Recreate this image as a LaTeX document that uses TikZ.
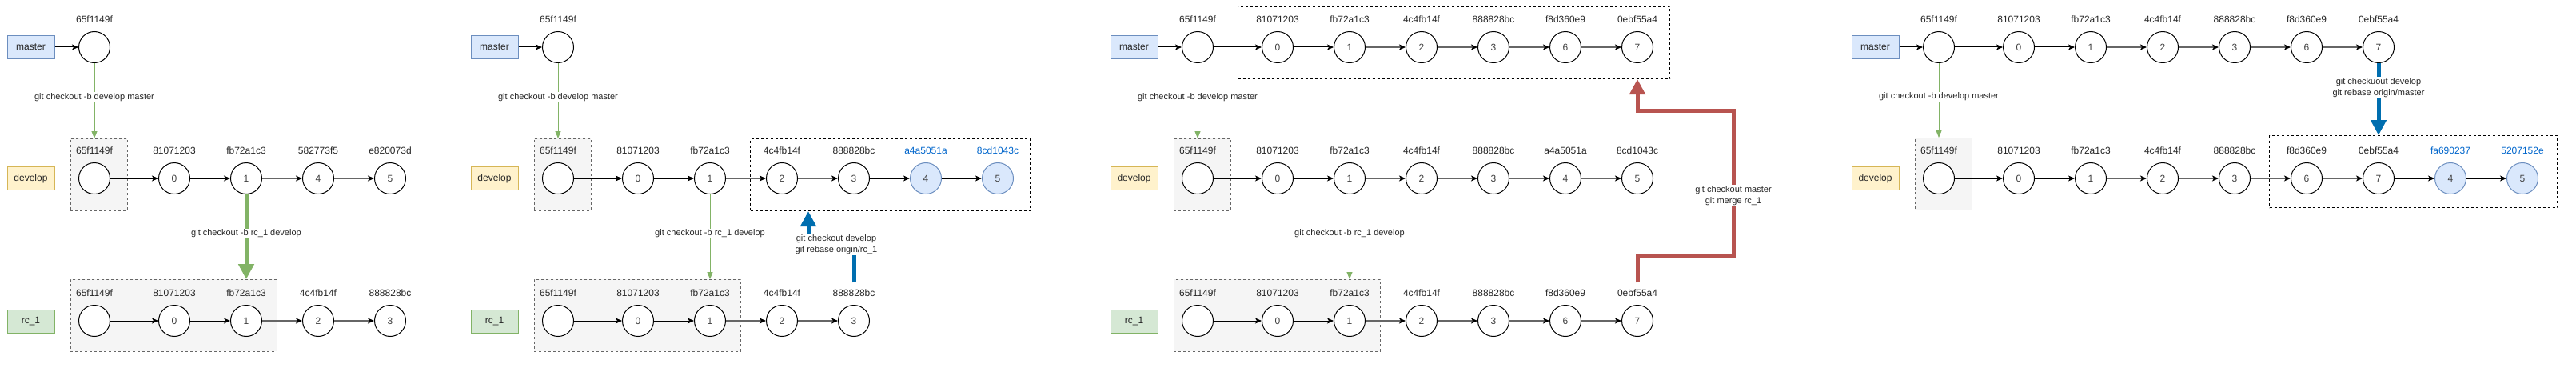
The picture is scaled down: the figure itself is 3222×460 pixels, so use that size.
\documentclass[tikz,border=0pt]{standalone}
\usepackage{fontspec}
\setmainfont{Liberation Sans}
\usetikzlibrary{arrows.meta,calc}
\definecolor{mfill}{HTML}{DAE8FC}\definecolor{mdraw}{HTML}{6C8EBF}
\definecolor{dfill}{HTML}{FFF2CC}\definecolor{ddraw}{HTML}{D6B656}
\definecolor{rfill}{HTML}{D5E8D4}\definecolor{rdraw}{HTML}{82B366}
\definecolor{gfill}{HTML}{F5F5F5}\definecolor{gdraw}{HTML}{666666}
\definecolor{gline}{HTML}{82B366}
\definecolor{bline}{HTML}{006EAF}
\definecolor{redl}{HTML}{B85450}
\definecolor{btext}{HTML}{0066CC}
\tikzset{
  commit/.style={circle, draw=black, line width=1pt, minimum size=39pt, inner sep=0pt, fill=white, text=black!75, font=\fontsize{12}{14}\selectfont},
  newcommit/.style={commit, fill=mfill, draw=mdraw},
  hash/.style={font=\fontsize{12}{14}\selectfont, inner sep=1pt, text=black!85},
  newhash/.style={hash, text=btext},
  branch/.style={draw, line width=1pt, minimum width=59pt, minimum height=29pt, inner sep=0pt, font=\fontsize{12}{14}\selectfont, text=black!85},
  masterbr/.style={branch, fill=mfill, draw=mdraw},
  devbr/.style={branch, fill=dfill, draw=ddraw},
  rcbr/.style={branch, fill=rfill, draw=rdraw},
  fixbox/.style={draw=gdraw, fill=gfill, line width=0.8pt, dash pattern=on 3pt off 3pt},
  newbox/.style={draw=black, line width=1pt, dash pattern=on 3pt off 3pt},
  link/.style={line width=1pt, draw=black, -{Stealth[length=8pt,width=7pt,inset=2pt,color=black]}},
  glink/.style={link, line width=1.5pt, draw=gdraw},
  thin/.style={line width=1pt, draw=gline, -{Triangle[length=9pt,width=7pt]}},
  thick/.style={line width=5pt, -{Triangle[length=19pt,width=19pt]}},
  elabel/.style={fill=white, font=\fontsize{11}{14}\selectfont, inner sep=1pt, text=black!85, align=center},
}
\newcommand{\cmt}[7]{\node[#1] (#3) at (#4,#5) {#6};\node[#2] (#3h) at (#4,#5-35) {#7};}
\newcommand{\area}[6]{\node[#1, anchor=north west, inner sep=0pt, minimum width={(#5)-(#3)}, minimum height={(#6)-(#4)}] (#2) at (#3,#4) {};}
\begin{document}
\begin{tikzpicture}[x=1pt,y=-1pt]
\fill[white] (0,0) rectangle (3222,460);
\useasboundingbox (0,0) rectangle (3222,460);

% ================= panel 1 =================
\area{fixbox}{p1dbox}{88}{173}{159}{263}
\area{fixbox}{p1rbox}{88}{349}{346}{439}
\node[masterbr] (p1m) at (38.5,59) {master};
\node[devbr] (p1d) at (38.5,223) {develop};
\node[rcbr] (p1r) at (38.5,401.5) {rc\_1};
\cmt{commit}{hash}{p1m0}{118}{59}{}{65f1149f}
\cmt{commit}{hash}{p1d0}{118}{223}{}{65f1149f}
\cmt{commit}{hash}{p1d1}{218}{223}{0}{81071203}
\cmt{commit}{hash}{p1d2}{308}{223}{1}{fb72a1c3}
\cmt{commit}{hash}{p1d3}{398}{223}{4}{582773f5}
\cmt{commit}{hash}{p1d4}{488}{223}{5}{e820073d}
\cmt{commit}{hash}{p1r0}{118}{401}{}{65f1149f}
\cmt{commit}{hash}{p1r1}{218}{401}{0}{81071203}
\cmt{commit}{hash}{p1r2}{308}{401}{1}{fb72a1c3}
\cmt{commit}{hash}{p1r3}{398}{401}{2}{4c4fb14f}
\cmt{commit}{hash}{p1r4}{488}{401}{3}{888828bc}
\draw[link] (p1m) -- (p1m0);
\draw[link] (p1d0) -- (p1d1);
\draw[link] (p1d1) -- (p1d2);
\draw[glink] (p1d2) -- (p1d3);
\draw[glink] (p1d3) -- (p1d4);
\draw[link] (p1r0) -- (p1r1);
\draw[link] (p1r1) -- (p1r2);
\draw[glink] (p1r2) -- (p1r3);
\draw[glink] (p1r3) -- (p1r4);
\draw[thin] (p1m0.south) -- node[elabel, pos=0.45] {git checkout -b develop master} (p1m0 |- p1dbox.north);
\draw[thick, draw=gline] (p1d2.south) -- node[elabel, pos=0.46] {git checkout -b rc\_1 develop} (p1d2 |- p1rbox.north);

% ================= panel 2 =================
\area{fixbox}{p2dbox}{668}{173}{739}{263}
\area{newbox}{p2dnew}{938}{173}{1288}{263}
\area{fixbox}{p2rbox}{668}{349}{926}{439}
\node[masterbr] (p2m) at (618.5,59) {master};
\node[devbr] (p2d) at (618.5,223) {develop};
\node[rcbr] (p2r) at (618.5,401.5) {rc\_1};
\cmt{commit}{hash}{p2m0}{698}{59}{}{65f1149f}
\cmt{commit}{hash}{p2d0}{698}{223}{}{65f1149f}
\cmt{commit}{hash}{p2d1}{798}{223}{0}{81071203}
\cmt{commit}{hash}{p2d2}{888}{223}{1}{fb72a1c3}
\cmt{commit}{hash}{p2d3}{978}{223}{2}{4c4fb14f}
\cmt{commit}{hash}{p2d4}{1068}{223}{3}{888828bc}
\cmt{newcommit}{newhash}{p2d5}{1158}{223}{4}{a4a5051a}
\cmt{newcommit}{newhash}{p2d6}{1248}{223}{5}{8cd1043c}
\cmt{commit}{hash}{p2r0}{698}{401}{}{65f1149f}
\cmt{commit}{hash}{p2r1}{798}{401}{0}{81071203}
\cmt{commit}{hash}{p2r2}{888}{401}{1}{fb72a1c3}
\cmt{commit}{hash}{p2r3}{978}{401}{2}{4c4fb14f}
\cmt{commit}{hash}{p2r4}{1068}{401}{3}{888828bc}
\draw[link] (p2m) -- (p2m0);
\draw[link] (p2d0) -- (p2d1);
\draw[link] (p2d1) -- (p2d2);
\draw[glink] (p2d2) -- (p2d3);
\draw[glink] (p2d3) -- (p2d4);
\draw[link] (p2d4) -- (p2d5);
\draw[link] (p2d5) -- (p2d6);
\draw[link] (p2r0) -- (p2r1);
\draw[link] (p2r1) -- (p2r2);
\draw[glink] (p2r2) -- (p2r3);
\draw[glink] (p2r3) -- (p2r4);
\draw[thin] (p2m0.south) -- node[elabel, pos=0.45] {git checkout -b develop master} (p2m0 |- p2dbox.north);
\draw[thin] (p2d2.south) -- node[elabel, pos=0.46] {git checkout -b rc\_1 develop} (p2d2 |- p2rbox.north);
\coordinate (p2bend) at (1011,306);
\draw[thick, draw=bline] ([yshift=7pt]p2r4h.north) |- (p2bend) -- (p2bend |- p2dnew.south);
\node[elabel] (p2lab) at (1046,306) {git checkout develop\\git rebase origin/rc\_1};

% ================= panel 3 =================
\area{newbox}{p3mnew}{1548}{8}{2088}{98}
\area{fixbox}{p3dbox}{1468}{173}{1539}{263}
\area{fixbox}{p3rbox}{1468}{349}{1726}{439}
\node[masterbr] (p3m) at (1418.5,59) {master};
\node[devbr] (p3d) at (1418.5,223) {develop};
\node[rcbr] (p3r) at (1418.5,401.5) {rc\_1};
\cmt{commit}{hash}{p3m0}{1498}{59}{}{65f1149f}
\cmt{commit}{hash}{p3m1}{1598}{59}{0}{81071203}
\cmt{commit}{hash}{p3m2}{1688}{59}{1}{fb72a1c3}
\cmt{commit}{hash}{p3m3}{1778}{59}{2}{4c4fb14f}
\cmt{commit}{hash}{p3m4}{1868}{59}{3}{888828bc}
\cmt{commit}{hash}{p3m5}{1958}{59}{6}{f8d360e9}
\cmt{commit}{hash}{p3m6}{2048}{59}{7}{0ebf55a4}
\cmt{commit}{hash}{p3d0}{1498}{223}{}{65f1149f}
\cmt{commit}{hash}{p3d1}{1598}{223}{0}{81071203}
\cmt{commit}{hash}{p3d2}{1688}{223}{1}{fb72a1c3}
\cmt{commit}{hash}{p3d3}{1778}{223}{2}{4c4fb14f}
\cmt{commit}{hash}{p3d4}{1868}{223}{3}{888828bc}
\cmt{commit}{hash}{p3d5}{1958}{223}{4}{a4a5051a}
\cmt{commit}{hash}{p3d6}{2048}{223}{5}{8cd1043c}
\cmt{commit}{hash}{p3r0}{1498}{401}{}{65f1149f}
\cmt{commit}{hash}{p3r1}{1598}{401}{0}{81071203}
\cmt{commit}{hash}{p3r2}{1688}{401}{1}{fb72a1c3}
\cmt{commit}{hash}{p3r3}{1778}{401}{2}{4c4fb14f}
\cmt{commit}{hash}{p3r4}{1868}{401}{3}{888828bc}
\cmt{commit}{hash}{p3r5}{1958}{401}{6}{f8d360e9}
\cmt{commit}{hash}{p3r6}{2048}{401}{7}{0ebf55a4}
\draw[link] (p3m) -- (p3m0);
\draw[link] (p3m0) -- (p3m1);
\draw[link] (p3m1) -- (p3m2);
\draw[glink] (p3m2) -- (p3m3);
\draw[glink] (p3m3) -- (p3m4);
\draw[glink] (p3m4) -- (p3m5);
\draw[glink] (p3m5) -- (p3m6);
\draw[link] (p3d0) -- (p3d1);
\draw[link] (p3d1) -- (p3d2);
\draw[glink] (p3d2) -- (p3d3);
\draw[glink] (p3d3) -- (p3d4);
\draw[glink] (p3d4) -- (p3d5);
\draw[glink] (p3d5) -- (p3d6);
\draw[link] (p3r0) -- (p3r1);
\draw[link] (p3r1) -- (p3r2);
\draw[glink] (p3r2) -- (p3r3);
\draw[glink] (p3r3) -- (p3r4);
\draw[glink] (p3r4) -- (p3r5);
\draw[glink] (p3r5) -- (p3r6);
\draw[thin] (p3m0.south) -- node[elabel, pos=0.45] {git checkout -b develop master} (p3m0 |- p3dbox.north);
\draw[thin] (p3d2.south) -- node[elabel, pos=0.46] {git checkout -b rc\_1 develop} (p3d2 |- p3rbox.north);
\coordinate (p3a) at (2048,319);
\coordinate (p3b) at (2168,319);
\coordinate (p3c) at (2168,138);
\coordinate (p3d) at (2048,138);
\draw[thick, draw=redl] ([yshift=7pt]p3r6h.north) -- (p3a) -- (p3b) -- (p3c) -- (p3d) -- (p3d |- p3mnew.south);
\node[elabel] (p3lab) at (2168,244.5) {git checkout master\\git merge rc\_1};

% ================= panel 4 =================
\area{fixbox}{p4dbox}{2395}{172}{2466}{262}
\area{newbox}{p4dnew}{2838}{169}{3198}{259}
\node[masterbr] (p4m) at (2345.5,59) {master};
\node[devbr] (p4d) at (2345.5,223) {develop};
\cmt{commit}{hash}{p4m0}{2425}{59}{}{65f1149f}
\cmt{commit}{hash}{p4m1}{2525}{59}{0}{81071203}
\cmt{commit}{hash}{p4m2}{2615}{59}{1}{fb72a1c3}
\cmt{commit}{hash}{p4m3}{2705}{59}{2}{4c4fb14f}
\cmt{commit}{hash}{p4m4}{2795}{59}{3}{888828bc}
\cmt{commit}{hash}{p4m5}{2885}{59}{6}{f8d360e9}
\cmt{commit}{hash}{p4m6}{2975}{59}{7}{0ebf55a4}
\cmt{commit}{hash}{p4d0}{2425}{223}{}{65f1149f}
\cmt{commit}{hash}{p4d1}{2525}{223}{0}{81071203}
\cmt{commit}{hash}{p4d2}{2615}{223}{1}{fb72a1c3}
\cmt{commit}{hash}{p4d3}{2705}{223}{2}{4c4fb14f}
\cmt{commit}{hash}{p4d4}{2795}{223}{3}{888828bc}
\cmt{commit}{hash}{p4d5}{2885}{223}{6}{f8d360e9}
\cmt{commit}{hash}{p4d6}{2975}{223}{7}{0ebf55a4}
\cmt{newcommit}{newhash}{p4d7}{3065}{223}{4}{fa690237}
\cmt{newcommit}{newhash}{p4d8}{3155}{223}{5}{5207152e}
\draw[link] (p4m) -- (p4m0);
\draw[link] (p4m0) -- (p4m1);
\draw[link] (p4m1) -- (p4m2);
\draw[glink] (p4m2) -- (p4m3);
\draw[glink] (p4m3) -- (p4m4);
\draw[glink] (p4m4) -- (p4m5);
\draw[glink] (p4m5) -- (p4m6);
\draw[link] (p4d0) -- (p4d1);
\draw[link] (p4d1) -- (p4d2);
\draw[glink] (p4d2) -- (p4d3);
\draw[glink] (p4d3) -- (p4d4);
\draw[glink] (p4d4) -- (p4d5);
\draw[glink] (p4d5) -- (p4d6);
\draw[link] (p4d6) -- (p4d7);
\draw[link] (p4d7) -- (p4d8);
\draw[thin] (p4m0.south) -- node[elabel, pos=0.45] {git checkout -b develop master} (p4m0 |- p4dbox.north);
\draw[thick, draw=bline] (p4m6.south) -- node[elabel, pos=0.34] {git checkuout develop\\git rebase origin/master} (p4m6 |- p4dnew.north);
\end{tikzpicture}
\end{document}
